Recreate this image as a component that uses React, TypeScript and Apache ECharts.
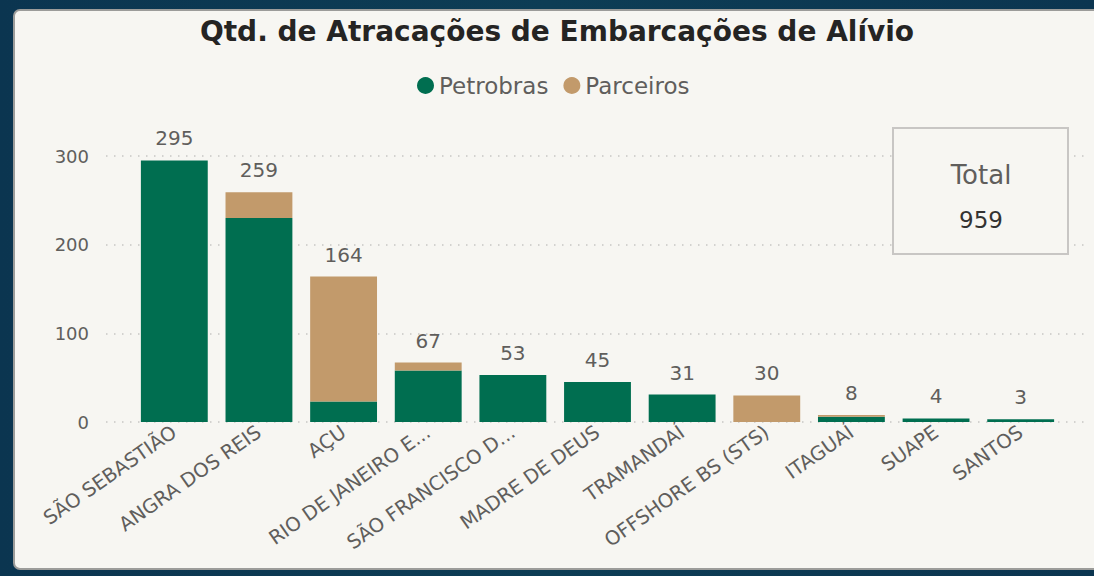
import React, { useEffect, useRef } from "react";
import * as echarts from "echarts";

const categories = [
  "SÃO SEBASTIÃO",
  "ANGRA DOS REIS",
  "AÇU",
  "RIO DE JANEIRO E...",
  "SÃO FRANCISCO D...",
  "MADRE DE DEUS",
  "TRAMANDAÍ",
  "OFFSHORE BS (STS)",
  "ITAGUAÍ",
  "SUAPE",
  "SANTOS",
];
const petrobras = [295, 230, 23, 58, 53, 45, 31, 0, 6, 4, 3];
const parceiros = [0, 29, 141, 9, 0, 0, 0, 30, 2, 0, 0];
const totals = petrobras.map((v, i) => v + parceiros[i]);
const grandTotal = totals.reduce((a, b) => a + b, 0);

const TITLE = "Qtd. de Atracações de Embarcações de Alívio";
const GREEN = "#006e50";
const TAN = "#c29a6b";
const FONT = "DejaVu Sans";

export default function App() {
  const ref = useRef<HTMLDivElement>(null);
  useEffect(() => {
    if (!ref.current) return;
    const chart = echarts.init(ref.current, undefined, { renderer: "svg" });
    const gridTop = 156;
    const gridBottom = 154;
    chart.setOption({
      animation: false,
      textStyle: { fontFamily: FONT },
      title: {
        text: TITLE,
        left: 557,
        top: 17,
        textAlign: "center",
        padding: 0,
        textStyle: { fontFamily: FONT, fontSize: 28, fontWeight: "bold", color: "#252423" },
      },
      legend: {
        data: ["Petrobras", "Parceiros"],
        left: 417,
        top: 74,
        icon: "circle",
        itemWidth: 17,
        itemHeight: 17,
        itemGap: 15,
        padding: 0,
        textStyle: { fontFamily: FONT, fontSize: 23, color: "#605e5c" },
      },
      grid: [
        { left: 132, right: 31, top: gridTop, bottom: gridBottom, containLabel: false },
        { left: 106, right: 7, top: gridTop, bottom: gridBottom, containLabel: false },
      ],
      xAxis: [
        {
          type: "category",
          gridIndex: 0,
          data: categories,
          axisLine: { show: false },
          axisTick: { show: false },
          axisLabel: {
            rotate: 35,
            interval: 0,
            margin: 8,
            fontFamily: FONT,
            fontSize: 19.5,
            color: "#605e5c",
          },
        },
        { type: "value", gridIndex: 1, show: false, min: 0, max: 1 },
      ],
      yAxis: [
        {
          type: "value",
          gridIndex: 0,
          min: 0,
          max: 300,
          interval: 100,
          axisLine: { show: false },
          axisTick: { show: false },
          splitLine: { show: false },
          axisLabel: { margin: 43, fontFamily: FONT, fontSize: 18, color: "#605e5c" },
        },
        {
          type: "value",
          gridIndex: 1,
          min: 0,
          max: 300,
          interval: 100,
          axisLine: { show: false },
          axisTick: { show: false },
          axisLabel: { show: false },
          splitLine: { show: true, lineStyle: { color: "#c8c6c4", width: 1.5, type: [1.5, 6.5] } },
        },
      ],
      series: [
        {
          name: "Petrobras",
          type: "bar",
          stack: "s",
          data: petrobras,
          barCategoryGap: "21%",
          itemStyle: { color: GREEN },
          z: 3,
        },
        {
          name: "Parceiros",
          type: "bar",
          stack: "s",
          data: parceiros,
          itemStyle: { color: TAN },
          z: 3,
        },
        {
          name: "Total",
          type: "bar",
          data: totals,
          barGap: "-100%",
          itemStyle: { color: "rgba(0,0,0,0)" },
          silent: true,
          z: 1,
          label: {
            show: true,
            position: "top",
            distance: 12,
            fontFamily: FONT,
            fontSize: 20,
            color: "#605e5c",
          },
        },
      ],
      graphic: [
        {
          type: "rect",
          shape: { x: 893, y: 128, width: 175, height: 126 },
          style: { fill: "#f7f6f2", stroke: "#c8c6c4", lineWidth: 2 },
          z: 10,
        },
        {
          type: "text",
          x: 981,
          y: 175,
          style: {
            text: "Total",
            fontFamily: FONT,
            fontSize: 26,
            fill: "#605e5c",
            align: "center",
            verticalAlign: "middle",
          },
          z: 11,
        },
        {
          type: "text",
          x: 981,
          y: 220,
          style: {
            text: String(grandTotal),
            fontFamily: FONT,
            fontSize: 23,
            fill: "#333231",
            align: "center",
            verticalAlign: "middle",
          },
          z: 11,
        },
      ],
    });
    return () => chart.dispose();
  }, []);

  return (
    <div
      style={{
        position: "fixed",
        left: 0,
        top: 0,
        width: 1094,
        height: 576,
        background: "linear-gradient(90deg, #0b3550 0%, #0d3d55 50%, #0b3550 100%)",
        overflow: "hidden",
      }}
    >
      <div
        style={{
          position: "absolute",
          left: 13,
          top: 9,
          width: 1100,
          height: 561,
          background: "#f7f6f2",
          border: "2px solid #9c9c9a",
          borderRadius: 7,
          boxSizing: "border-box",
        }}
      />
      <div ref={ref} style={{ position: "absolute", left: 0, top: 0, width: 1094, height: 576 }} />
    </div>
  );
}
